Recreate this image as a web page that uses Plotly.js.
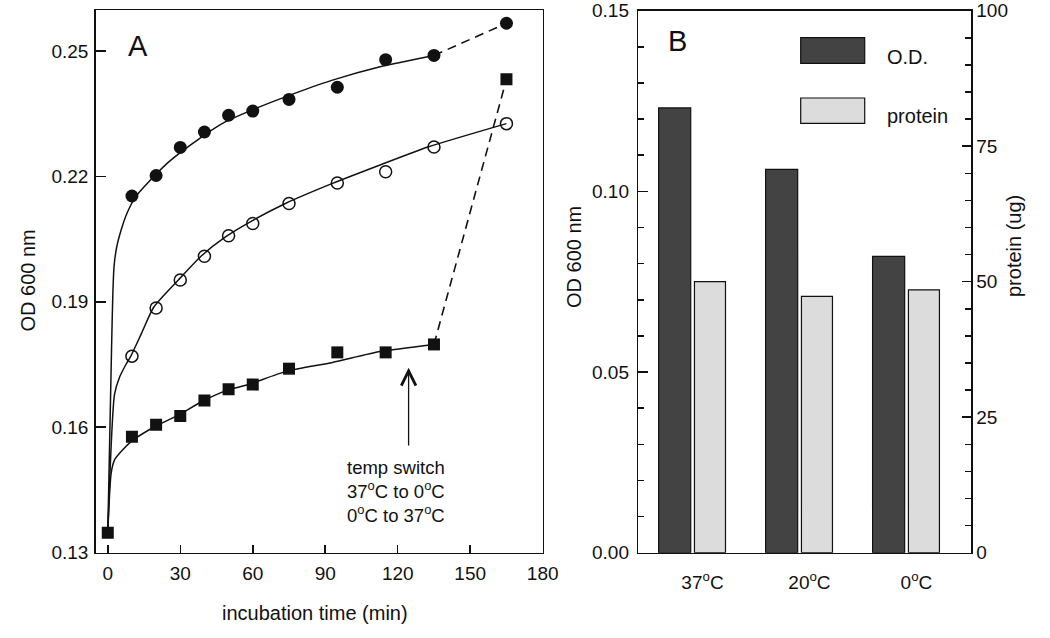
<!DOCTYPE html>
<html>
<head>
<meta charset="utf-8">
<script src="https://cdn.plot.ly/plotly-3.0.1.min.js"></script>
<style>html,body{margin:0;padding:0;background:#fff;}#chart{width:1050px;height:638px;}</style>
</head>
<body>
<div id="chart"></div>
<script>
// ---- Panel A data ----
const timeCircles = [10, 20, 30, 40, 50, 60, 75, 95, 115, 135, 165];
const filledCircles = [0.2153, 0.2202, 0.2269, 0.2306, 0.2346, 0.2356, 0.2384, 0.2413, 0.2479, 0.2489, 0.2566];
const openCircles = [0.1770, 0.1885, 0.1952, 0.2009, 0.2058, 0.2087, 0.2135, 0.2184, 0.2211, 0.2270, 0.2326];
const timeSquares = [0, 10, 20, 30, 40, 50, 60, 75, 95, 115, 135, 165];
const squares = [0.1348, 0.1577, 0.1606, 0.1627, 0.1664, 0.1691, 0.1702, 0.1740, 0.1779, 0.1779, 0.1798, 0.2432];

// fitted curves
const fitFilledT = [0, 1.6, 2.1, 2.6, 3.7, 5.5, 7.9, 11.5, 18, 24, 29.2, 38.8, 48.6, 58.6, 73.5, 93, 112.7, 135];
const fitFilledY = [0.1348, 0.1800, 0.1920, 0.1985, 0.2031, 0.2071, 0.2111, 0.2151, 0.2193, 0.2228, 0.2253, 0.2294, 0.2330, 0.2356, 0.2390, 0.2430, 0.2462, 0.2489];
const fitOpenT = [0, 2.8, 4.9, 7.5, 9.7, 14, 19, 29.2, 38.8, 48.7, 58.6, 73.5, 93, 112.7, 132.5, 165];
const fitOpenY = [0.1348, 0.1679, 0.1720, 0.1750, 0.1772, 0.1825, 0.1887, 0.1952, 0.2010, 0.2055, 0.2090, 0.2135, 0.2183, 0.2227, 0.2270, 0.2326];
const fitSquareT = [0, 1.4, 2.8, 6.2, 10.4, 19, 29.2, 38.8, 48.7, 58.6, 73.5, 93, 112.7, 135];
const fitSquareY = [0.1348, 0.1490, 0.1522, 0.1546, 0.1569, 0.1600, 0.1629, 0.1661, 0.1687, 0.1703, 0.1733, 0.1755, 0.1781, 0.1798];

const xTicksA = [0, 30, 60, 90, 120, 150, 180];
const yTicksA = [0.13, 0.16, 0.19, 0.22, 0.25];

// ---- Panel B data ----
const tempCategories = ['37<sup>o</sup>C', '20<sup>o</sup>C', '0<sup>o</sup>C'];
const odValues = [0.1231, 0.1061, 0.0820];
const proteinValues = [50.0, 47.3, 48.5];

const FONT = 'Liberation Sans, Arial, Helvetica, sans-serif';
const INK = '#111111';

const traces = [
  {x: fitFilledT, y: fitFilledY, xaxis: 'x', yaxis: 'y', mode: 'lines', line: {color: INK, width: 1.5, shape: 'spline', smoothing: 0.6}, hoverinfo: 'skip'},
  {x: fitOpenT, y: fitOpenY, xaxis: 'x', yaxis: 'y', mode: 'lines', line: {color: INK, width: 1.5, shape: 'spline', smoothing: 0.6}, hoverinfo: 'skip'},
  {x: fitSquareT, y: fitSquareY, xaxis: 'x', yaxis: 'y', mode: 'lines', line: {color: INK, width: 1.5, shape: 'spline', smoothing: 0.6}, hoverinfo: 'skip'},
  {x: timeCircles.slice(-2), y: filledCircles.slice(-2), xaxis: 'x', yaxis: 'y', mode: 'lines', line: {color: INK, width: 1.6, dash: '9px,6px'}},
  {x: timeSquares.slice(-2), y: squares.slice(-2), xaxis: 'x', yaxis: 'y', mode: 'lines', line: {color: INK, width: 1.6, dash: '9px,6px'}},
  {x: timeCircles, y: filledCircles, xaxis: 'x', yaxis: 'y', mode: 'markers', marker: {symbol: 'circle', size: 13, color: INK}},
  {x: timeCircles, y: openCircles, xaxis: 'x', yaxis: 'y', mode: 'markers', marker: {symbol: 'circle-open', size: 12, color: INK, line: {width: 1.5, color: INK}}},
  {x: timeSquares, y: squares, xaxis: 'x', yaxis: 'y', mode: 'markers', marker: {symbol: 'square', size: 12, color: INK}},
  {type: 'bar', x: tempCategories, y: odValues, xaxis: 'x2', yaxis: 'y3', name: 'O.D.', offset: -0.41, width: 0.30,
   marker: {color: '#434343', line: {color: INK, width: 1.2}}},
  {type: 'bar', x: tempCategories, y: proteinValues, xaxis: 'x2', yaxis: 'y4', name: 'protein', offset: -0.075, width: 0.29,
   marker: {color: '#dcdcdc', line: {color: INK, width: 1.2}}}
];

const W = 1050, H = 638;
const px = v => v / W;
const py = v => 1 - v / H;

const axisCommon = {showgrid: false, zeroline: false, showline: true, linecolor: INK, linewidth: 1.5,
  tickcolor: INK, tickwidth: 1.5, tickfont: {family: FONT, size: 19, color: INK}};

const layout = {
  width: W, height: H,
  margin: {l: 0, r: 0, t: 0, b: 0},
  paper_bgcolor: '#fff', plot_bgcolor: '#fff',
  showlegend: false,
  barmode: 'overlay',
  font: {family: FONT, size: 19, color: INK},
  xaxis: Object.assign({}, axisCommon, {domain: [px(95.7), px(542.7)], anchor: 'y', range: [-5, 180],
    tickvals: xTicksA, ticks: 'inside', ticklen: 8, mirror: true, ticklabelstandoff: 3}),
  yaxis: Object.assign({}, axisCommon, {domain: [py(552.7), py(10.3)], anchor: 'x', range: [0.13, 0.2597],
    tickvals: yTicksA, tickformat: '.2f', ticks: 'inside', ticklen: 10, mirror: true, ticklabelstandoff: 2}),
  xaxis2: Object.assign({}, axisCommon, {domain: [px(638.3), px(971)], anchor: 'y3', type: 'category',
    range: [-0.6, 2.51], ticks: '', mirror: true, ticklabelstandoff: 12}),
  yaxis3: Object.assign({}, axisCommon, {domain: [py(552.7), py(10.7)], anchor: 'x2', range: [0, 0.15],
    dtick: 0.05, tick0: 0, tickformat: '.2f', ticks: 'inside', ticklen: 10, ticklabelstandoff: 4,
    minor: {dtick: 0.01, ticks: 'inside', ticklen: 6, tickcolor: INK, tickwidth: 1.5}}),
  yaxis4: Object.assign({}, axisCommon, {overlaying: 'y3', side: 'right', anchor: 'x2', range: [0, 100],
    dtick: 25, tick0: 0, ticks: 'inside', ticklen: 9, ticklabelstandoff: 0,
    minor: {dtick: 5, ticks: 'inside', ticklen: 6, tickcolor: INK, tickwidth: 1.5}}),
  shapes: [
    {type: 'rect', xref: 'paper', yref: 'paper', x0: px(800.7), x1: px(864.7), y0: py(63.3), y1: py(37.7),
     fillcolor: '#434343', line: {color: INK, width: 1.2}},
    {type: 'rect', xref: 'paper', yref: 'paper', x0: px(800.7), x1: px(864.7), y0: py(123.3), y1: py(98),
     fillcolor: '#dcdcdc', line: {color: INK, width: 1.2}}
  ],
  annotations: [
    {xref: 'paper', yref: 'paper', x: px(138), y: py(46), text: 'A', showarrow: false,
     font: {family: FONT, size: 29, color: INK}, xanchor: 'center', yanchor: 'middle'},
    {xref: 'paper', yref: 'paper', x: px(677), y: py(41), text: 'B', showarrow: false,
     font: {family: FONT, size: 29, color: INK}, xanchor: 'center', yanchor: 'middle'},
    {xref: 'paper', yref: 'paper', x: px(27.5), y: py(281), text: 'OD 600 nm', textangle: -90, showarrow: false,
     font: {family: FONT, size: 20, color: INK}, xanchor: 'center', yanchor: 'middle'},
    {xref: 'paper', yref: 'paper', x: px(315), y: py(613), text: 'incubation time (min)', showarrow: false,
     font: {family: FONT, size: 20, color: INK}, xanchor: 'center', yanchor: 'middle'},
    {xref: 'paper', yref: 'paper', x: px(573.3), y: py(256.7), text: 'OD 600 nm', textangle: -90, showarrow: false,
     font: {family: FONT, size: 20, color: INK}, xanchor: 'center', yanchor: 'middle'},
    {xref: 'paper', yref: 'paper', x: px(1014), y: py(246), text: 'protein (ug)', textangle: -90, showarrow: false,
     font: {family: FONT, size: 20, color: INK}, xanchor: 'center', yanchor: 'middle'},
    {xref: 'paper', yref: 'paper', x: px(885), y: py(57), text: 'O.D.', showarrow: false,
     font: {family: FONT, size: 20, color: INK}, xanchor: 'left', yanchor: 'middle'},
    {xref: 'paper', yref: 'paper', x: px(885), y: py(116), text: 'protein', showarrow: false,
     font: {family: FONT, size: 20, color: INK}, xanchor: 'left', yanchor: 'middle'},
    // arrow for temperature switch
    {xref: 'x', yref: 'y', x: 124.5, y: 0.1742, axref: 'x', ayref: 'y', ax: 124.5, ay: 0.1553, text: '',
     showarrow: true, arrowhead: 5, arrowsize: 2.2, arrowwidth: 1.3, arrowcolor: INK},
    {xref: 'paper', yref: 'paper', x: px(345), y: py(455), text: 'temp switch<br>37<sup>o</sup>C to 0<sup>o</sup>C<br>0<sup>o</sup>C to 37<sup>o</sup>C',
     showarrow: false, align: 'left', xanchor: 'left', yanchor: 'top',
     font: {family: FONT, size: 18.5, color: INK}}
  ]
};

Plotly.newPlot('chart', traces, layout, {displayModeBar: false, staticPlot: true});
</script>
</body>
</html>
